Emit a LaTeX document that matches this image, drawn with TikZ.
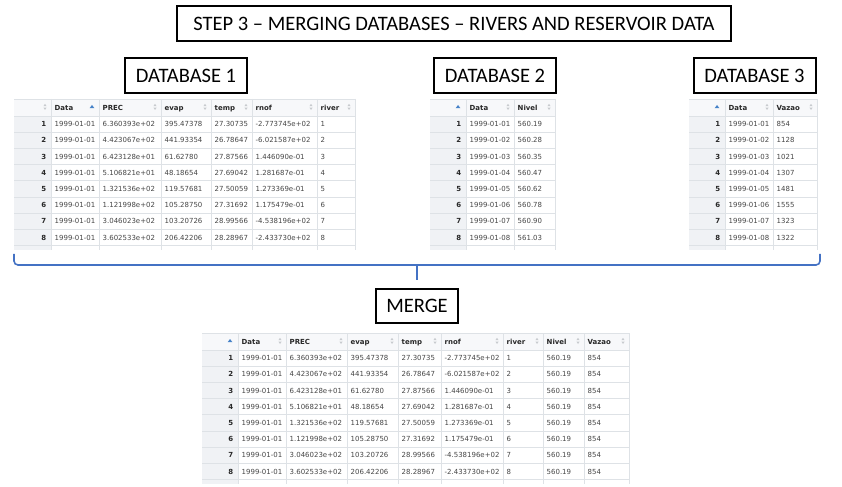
\documentclass[tikz,border=0pt]{standalone}
\usepackage{fontspec}
\newfontfamily\calib[Ligatures=TeX]{Carlito}
\newfontfamily\tabf{DejaVu Sans}
\definecolor{hdrbg}{RGB}{247,248,250}
\definecolor{idxbg}{RGB}{240,242,245}
\definecolor{gridc}{RGB}{222,226,230}
\definecolor{celltext}{RGB}{70,70,70}
\definecolor{hdrtext}{RGB}{40,40,40}
\definecolor{sortc}{RGB}{200,203,207}
\definecolor{sortblue}{RGB}{70,130,200}
\definecolor{braceblue}{RGB}{68,114,196}
\tikzset{
  lbl/.style={draw=black, line width=2bp, fill=white, font=\calib\fontsize{20.6}{24}\selectfont, inner sep=0pt, minimum height=35bp},
  cell/.style={font=\tabf\fontsize{7}{8}\selectfont, text=celltext, inner sep=0pt, anchor=west, text height=5.1bp, text depth=0bp},
  hcell/.style={cell, font=\tabf\bfseries\fontsize{7}{8}\selectfont, text=hdrtext},
  icell/.style={hcell, anchor=east},
  gridl/.style={draw=gridc, line width=0.7bp},
  brace/.style={draw=braceblue, line width=1.6bp},
}
% grid: #1 L, #2 I, #3 R, #4 T, #5 edges
\newcommand\rtab[5]{%
  \fill[hdrbg] (#1,#4) rectangle (#3,#4+17);
  \fill[idxbg] (#1,#4+17) rectangle (#2,#4+150.6);
  \foreach \kk in {0,...,8} {\draw[gridl] (#1,{#4+17+16.2*\kk}) -- (#3,{#4+17+16.2*\kk});}
  \draw[gridl] (#1,#4) -- (#3,#4);
  \foreach \ee in {#5} {\draw[gridl] (\ee,#4) -- (\ee,#4+150.6);}
}
% grey sort icon at x, header top T
\newcommand\sorticon[2]{%
  \fill[sortc] (#1-1.6,#2+7.2) -- (#1+1.6,#2+7.2) -- (#1,#2+4.8) -- cycle;
  \fill[sortc] (#1-1.6,#2+8.6) -- (#1+1.6,#2+8.6) -- (#1,#2+11) -- cycle;
}
\newcommand\sortblue[2]{%
  \fill[sortblue] (#1-2.4,#2+9.2) -- (#1+2.4,#2+9.2) -- (#1,#2+6) -- cycle;
}
\def\dbone{1/1999-01-01/6.360393e+02/395.47378/27.30735/-2.773745e+02/1,
2/1999-01-01/4.423067e+02/441.93354/26.78647/-6.021587e+02/2,
3/1999-01-01/6.423128e+01/61.62780/27.87566/1.446090e-01/3,
4/1999-01-01/5.106821e+01/48.18654/27.69042/1.281687e-01/4,
5/1999-01-01/1.321536e+02/119.57681/27.50059/1.273369e-01/5,
6/1999-01-01/1.121998e+02/105.28750/27.31692/1.175479e-01/6,
7/1999-01-01/3.046023e+02/103.20726/28.99566/-4.538196e+02/7,
8/1999-01-01/3.602533e+02/206.42206/28.28967/-2.433730e+02/8}
\begin{document}
\begin{tikzpicture}[x=1bp,y=-1bp]
\useasboundingbox (0,0) rectangle (842,487);
\fill[white] (0,0) rectangle (842,487);

% ---------- labels ----------
\node[lbl, minimum width=554bp] (title) at (454,23.5) {STEP 3 \textendash{} MERGING DATABASES \textendash{} RIVERS AND RESERVOIR DATA};
\node[lbl, minimum width=122bp] (db1) at (186,75.5) {DATABASE 1};
\node[lbl, minimum width=122bp] (db2) at (495,75.5) {DATABASE 2};
\node[lbl, minimum width=122bp] (db3) at (754.5,75.5) {DATABASE 3};
\node[lbl, minimum width=82bp, minimum height=34bp] (merge) at (417,306) {MERGE};

% ---------- database 1 ----------
\rtab{14}{51}{355}{99}{51,99,161,211,252,317,355}
\node[hcell] (a-h1) at (54.5,107.5) {Data};
\node[hcell] (a-h2) at (102.5,107.5) {PREC};
\node[hcell] (a-h3) at (164.5,107.5) {evap};
\node[hcell] (a-h4) at (214.5,107.5) {temp};
\node[hcell] (a-h5) at (255.5,107.5) {rnof};
\node[hcell] (a-h6) at (320.5,107.5) {river};
\sorticon{45}{99}\sortblue{92}{99}
\foreach \xx in {155,205,246,311,349} {\sorticon{\xx}{99}}
\foreach \k/\a/\b/\c/\d/\e/\f in \dbone {
  \pgfmathsetmacro\yy{99+8.9+16.2*\k}
  \node[icell] (a-\k-0) at (46.5,\yy) {\k};
  \node[cell] (a-\k-1) at (54.5,\yy) {\a};
  \node[cell] (a-\k-2) at (102.5,\yy) {\b};
  \node[cell] (a-\k-3) at (164.5,\yy) {\c};
  \node[cell] (a-\k-4) at (214.5,\yy) {\d};
  \node[cell] (a-\k-5) at (255.5,\yy) {\e};
  \node[cell] (a-\k-6) at (320.5,\yy) {\f};
}

% ---------- database 2 ----------
\rtab{430}{466}{555}{99}{466,514,555}
\node[hcell] (b-h1) at (469.5,107.5) {Data};
\node[hcell] (b-h2) at (517.5,107.5) {Nivel};
\sortblue{458}{99}
\foreach \xx in {508,549} {\sorticon{\xx}{99}}
\foreach \k/\a/\b in {1/1999-01-01/560.19,2/1999-01-02/560.28,3/1999-01-03/560.35,4/1999-01-04/560.47,5/1999-01-05/560.62,6/1999-01-06/560.78,7/1999-01-07/560.90,8/1999-01-08/561.03} {
  \pgfmathsetmacro\yy{99+8.9+16.2*\k}
  \node[icell] (b-\k-0) at (461.5,\yy) {\k};
  \node[cell] (b-\k-1) at (469.5,\yy) {\a};
  \node[cell] (b-\k-2) at (517.5,\yy) {\b};
}

% ---------- database 3 ----------
\rtab{689}{725}{817}{99}{725,773,817}
\node[hcell] (c-h1) at (728.5,107.5) {Data};
\node[hcell] (c-h2) at (776.5,107.5) {Vazao};
\sortblue{717}{99}
\foreach \xx in {767,811} {\sorticon{\xx}{99}}
\foreach \k/\a/\b in {1/1999-01-01/854,2/1999-01-02/1128,3/1999-01-03/1021,4/1999-01-04/1307,5/1999-01-05/1481,6/1999-01-06/1555,7/1999-01-07/1323,8/1999-01-08/1322} {
  \pgfmathsetmacro\yy{99+8.9+16.2*\k}
  \node[icell] (c-\k-0) at (720.5,\yy) {\k};
  \node[cell] (c-\k-1) at (728.5,\yy) {\a};
  \node[cell] (c-\k-2) at (776.5,\yy) {\b};
}

% ---------- brace ----------
\coordinate (bl) at (14,254);
\coordinate (br) at (820,254);
\coordinate (bc) at (417,265);
\draw[brace, rounded corners=4bp] (bl) -- (14,265) -- (820,265) -- (br);
\draw[brace] (bc) -- ([yshift=8bp]merge.north);

% ---------- merged table ----------
\rtab{202}{238}{629}{333}{238,286,347,398,441,503,543,584,629}
\node[hcell] (m-h1) at (241.5,341.5) {Data};
\node[hcell] (m-h2) at (289.5,341.5) {PREC};
\node[hcell] (m-h3) at (350.5,341.5) {evap};
\node[hcell] (m-h4) at (401.5,341.5) {temp};
\node[hcell] (m-h5) at (444.5,341.5) {rnof};
\node[hcell] (m-h6) at (506.5,341.5) {river};
\node[hcell] (m-h7) at (546.5,341.5) {Nivel};
\node[hcell] (m-h8) at (587.5,341.5) {Vazao};
\sortblue{230}{333}
\foreach \xx in {280,341,392,435,497,537,578,623} {\sorticon{\xx}{333}}
\foreach \k/\a/\b/\c/\d/\e/\f in \dbone {
  \pgfmathsetmacro\yy{333+8.9+16.2*\k}
  \node[icell] (m-\k-0) at (233.5,\yy) {\k};
  \node[cell] (m-\k-1) at (241.5,\yy) {\a};
  \node[cell] (m-\k-2) at (289.5,\yy) {\b};
  \node[cell] (m-\k-3) at (350.5,\yy) {\c};
  \node[cell] (m-\k-4) at (401.5,\yy) {\d};
  \node[cell] (m-\k-5) at (444.5,\yy) {\e};
  \node[cell] (m-\k-6) at (506.5,\yy) {\f};
  \node[cell] (m-\k-7) at (546.5,\yy) {560.19};
  \node[cell] (m-\k-8) at (587.5,\yy) {854};
}
\end{tikzpicture}
\end{document}
